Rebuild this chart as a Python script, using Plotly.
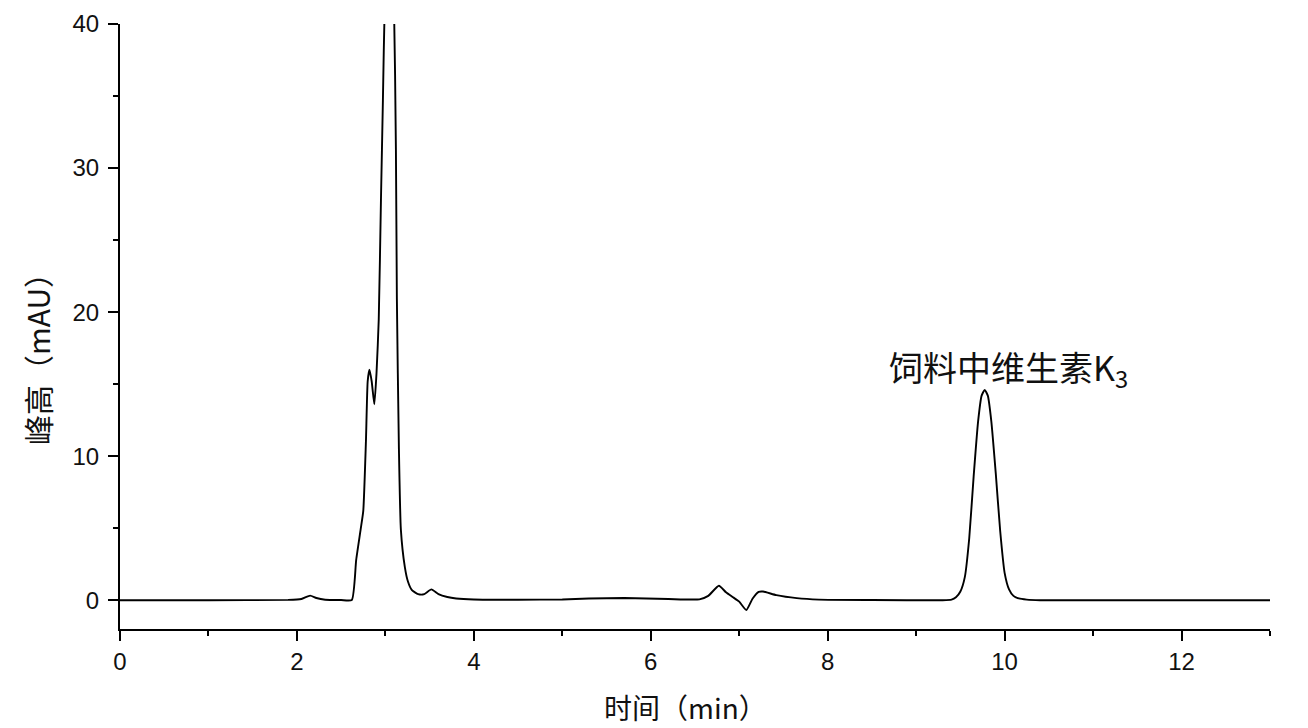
import plotly.graph_objects as go

# Chromatogram readings (retention time in min, response in mAU)
time_min = [
    0.00, 1.00, 1.90, 2.05, 2.15, 2.22, 2.32, 2.50, 2.62,
    2.67, 2.72, 2.75, 2.78, 2.80, 2.82, 2.845, 2.875, 2.90, 2.925,
    2.95, 2.972, 2.994, 3.045, 3.096, 3.119, 3.13, 3.153, 3.175,
    3.22, 3.255, 3.30, 3.37, 3.44, 3.52, 3.60, 3.70, 3.80, 4.00,
    4.50, 5.00, 5.30, 5.70, 6.20, 6.55, 6.65, 6.77, 6.85, 6.93,
    7.00, 7.08, 7.15, 7.22, 7.27, 7.42, 7.65, 7.90, 8.50, 9.30,
    9.40, 9.45, 9.50, 9.55, 9.60, 9.65, 9.70, 9.74, 9.775, 9.81, 9.85,
    9.90, 9.95, 10.00, 10.05, 10.10, 10.16, 10.25, 10.40, 13.00,
]
signal_mau = [
    0.00, 0.00, 0.02, 0.08, 0.32, 0.15, 0.03, 0.01, 0.01,
    2.8, 4.9, 6.2, 11.0, 15.2, 16.0, 15.2, 13.6, 15.8, 19.5,
    27.8, 34.7, 41.7, 48.0, 41.7, 31.3, 20.9, 10.5, 4.9,
    2.3, 1.3, 0.7, 0.42, 0.42, 0.75, 0.42, 0.22, 0.12, 0.05,
    0.03, 0.05, 0.12, 0.15, 0.08, 0.06, 0.30, 1.00, 0.55, 0.20,
    -0.10, -0.68, 0.10, 0.58, 0.60, 0.35, 0.14, 0.04, 0.01, 0.00,
    0.04, 0.20, 0.60, 1.60, 4.30, 8.60, 12.40, 14.20, 14.60, 14.20, 12.40,
    8.80, 4.80, 1.90, 0.75, 0.30, 0.12, 0.04, 0.00, 0.00,
]

x_ticks = [0, 2, 4, 6, 8, 10, 12]
y_ticks = [0, 10, 20, 30, 40]
x_title = "时间（min）"
y_title = "峰高（mAU）"
peak_label = "饲料中维生素K<sub>3</sub>"
peak_label_pos = (10.04, 16.1)

cjk = "Noto Sans CJK SC"
latin = "Liberation Sans, Arial, sans-serif"

fig = go.Figure()
fig.add_trace(go.Scatter(
    x=time_min, y=signal_mau, mode="lines",
    line=dict(color="black", width=1.9, shape="spline", smoothing=0.5),
    showlegend=False, hoverinfo="skip",
))

axis_common = dict(
    showline=True, linecolor="black", linewidth=2,
    ticks="outside", ticklen=10, tickwidth=2, tickcolor="black",
    showgrid=False, zeroline=False, automargin=False,
    tickfont=dict(family=latin, size=24, color="#111"),
)

fig.update_xaxes(
    range=[0, 13], tickvals=x_ticks,
    minor=dict(dtick=1, ticks="outside", ticklen=5, tickwidth=2, tickcolor="black"),
    **axis_common,
)
fig.update_yaxes(
    range=[-2, 40], tickvals=y_ticks, ticklabelstandoff=4,
    minor=dict(dtick=5, ticks="outside", ticklen=5, tickwidth=2, tickcolor="black"),
    **axis_common,
)

fig.add_annotation(
    x=peak_label_pos[0], y=peak_label_pos[1], xref="x", yref="y",
    text=peak_label, showarrow=False, xanchor="center", yanchor="middle",
    font=dict(family=cjk, size=34, color="#111"),
)
fig.add_annotation(
    x=0.492, y=-0.129, xref="paper", yref="paper",
    text=x_title, showarrow=False, xanchor="center", yanchor="middle",
    font=dict(family=cjk, size=28, color="#111"),
)
fig.add_annotation(
    x=-0.072, y=0.458, xref="paper", yref="paper",
    text=y_title, showarrow=False, xanchor="center", yanchor="middle",
    textangle=-90,
    font=dict(family=cjk, size=30, color="#111"),
)

# The page body has an 8px margin, so the figure is sized to fit the window.
fig.update_layout(
    width=1300, height=720,
    margin=dict(l=112, r=38, t=16, b=99, autoexpand=False),
    paper_bgcolor="white", plot_bgcolor="white",
)

fig.write_html("out.html")
